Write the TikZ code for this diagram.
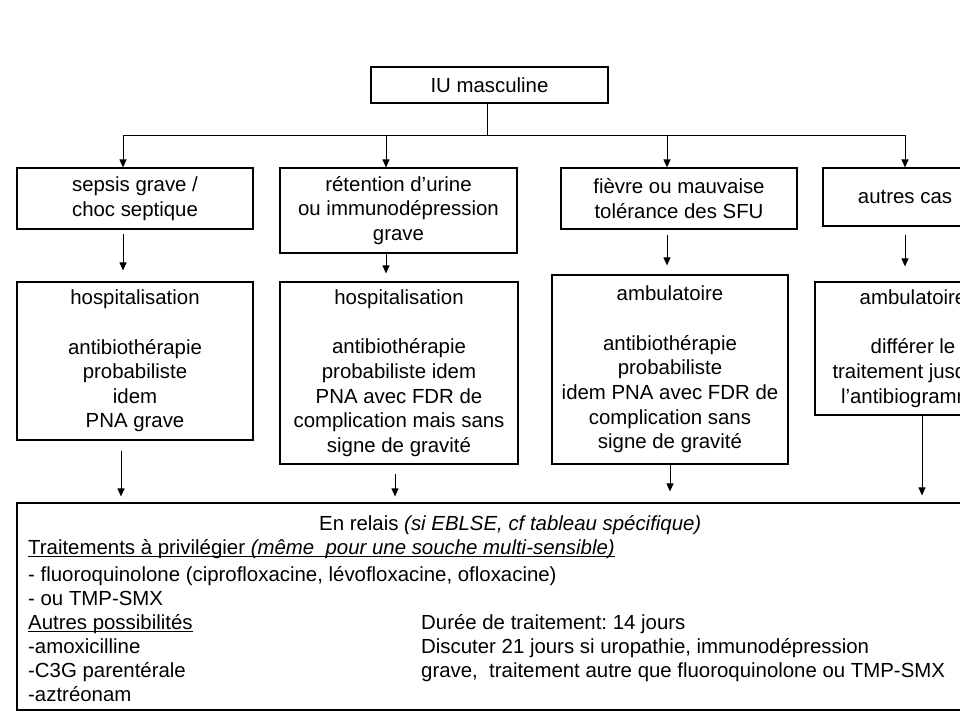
\documentclass[tikz,border=0pt]{standalone}
\usepackage{fontspec}
\setmainfont{Liberation Sans}
\usetikzlibrary{arrows.meta}
\frenchspacing
\begin{document}
\begin{tikzpicture}[x=1pt,y=-1pt,
  box/.style={draw,line width=1.2pt,inner sep=0pt,align=center,font=\fontsize{20.4}{24.6}\selectfont},
  arr/.style={line width=1pt,-{Triangle[length=8pt,width=7pt]}},
  conn/.style={line width=1pt},
  txt/.style={inner sep=0pt,anchor=base west,font=\fontsize{20.4}{24.4}\selectfont},
  uline/.style={line width=1pt}]
\useasboundingbox (0,0) rectangle (960,720);
\clip (0,0) rectangle (960,720);
\fill[white] (0,0) rectangle (960,720);

% top node
\node[box,minimum width=237pt,minimum height=36pt] (iu) at (489.5,85) {IU masculine};

% level 1
\node[box,minimum width=236pt,minimum height=61pt] (b1) at (135,198.5) {sepsis grave /\\choc septique};
\node[box,minimum width=237pt,minimum height=85pt] (b2) at (398.5,210.5) {rétention d’urine\\ou immunodépression\\grave};
\node[box,minimum width=236pt,minimum height=61pt] (b3) at (679,198.5) {fièvre ou mauvaise\\tolérance des SFU};
\node[box,minimum width=164pt,minimum height=58pt] (b4) at (905,197) {autres cas};

% level 2
\node[box,minimum width=236pt,minimum height=158pt] (b5) at (135,361) {hospitalisation\\[25pt]antibiothérapie\\probabiliste\\idem\\PNA grave};
\node[box,minimum width=238pt,minimum height=182pt] (b6) at (399,373) {hospitalisation\\[25pt]antibiothérapie\\probabiliste idem\\PNA avec FDR de\\complication mais sans\\signe de gravité};
\node[box,minimum width=236pt,minimum height=189pt] (b7) at (670,369.5) {ambulatoire\\[25pt]antibiothérapie\\probabiliste\\idem PNA avec FDR de\\complication sans\\signe de gravité};
\node[box,minimum width=196pt,minimum height=133pt] (b8) at (913,348.5) {ambulatoire\\[25pt]différer le\\traitement jusqu’à\\l’antibiogramme};

% bottom box
\node[box,minimum width=983pt,minimum height=207pt] (bb) at (508.5,606.5) {};

% connectors from top
\coordinate (bus) at (487,135);
\draw[conn] (iu.south -| bus) -- (bus);
\draw[conn] ([xshift=-12pt]b1.north |- bus) -- (b4.north |- bus);
\draw[arr] ([xshift=-12pt]b1.north |- bus) -- ([xshift=-12pt]b1.north);
\draw[arr] ([xshift=-12.5pt]b2.north |- bus) -- ([xshift=-12.5pt]b2.north);
\draw[arr] ([xshift=-12pt]b3.north |- bus) -- ([xshift=-12pt]b3.north);
\draw[arr] (b4.north |- bus) -- (b4.north);

% level 1 -> level 2
\draw[arr,shorten <=4pt,shorten >=11pt] ([xshift=-12pt]b1.south) -- ([xshift=-12pt]b1.south |- b5.north);
\draw[arr,shorten >=8pt] ([xshift=-12.5pt]b2.south) -- ([xshift=-12.5pt]b2.south |- b6.north);
\draw[arr,shorten <=5pt,shorten >=9pt] ([xshift=-12pt]b3.south) -- ([xshift=-12pt]b3.south |- b7.north);
\draw[arr,shorten <=8pt,shorten >=15pt] (b4.south) -- (b4.south |- b8.north);

% level 2 -> bottom
\draw[arr,shorten <=10pt,shorten >=6pt] ([xshift=-14pt]b5.south) -- ([xshift=-14pt]b5.south |- bb.north);
\draw[arr,shorten <=9pt,shorten >=6pt] ([xshift=-4pt]b6.south) -- ([xshift=-4pt]b6.south |- bb.north);
\draw[arr,shorten >=11pt] (b7.south) -- (b7.south |- bb.north);
\draw[arr,shorten >=7pt] ([xshift=9pt]b8.south) -- ([xshift=9pt]b8.south |- bb.north);

% bottom texts
\node[txt] (t0) at (319,530) {En relais \textit{(si EBLSE, cf tableau spécifique)}};
\node[txt] (t1) at (28,554) {Traitements à privilégier \textit{(même\ \ pour une souche multi-sensible)}};
\node[txt] (t2) at (28,581) {- fluoroquinolone (ciprofloxacine, lévofloxacine, ofloxacine)};
\node[txt] (t3) at (28,605) {- ou TMP-SMX};
\node[txt] (t4) at (28,629) {Autres possibilités};
\node[txt] (t5) at (28,653) {-amoxicilline};
\node[txt] (t6) at (28,677) {-C3G parentérale};
\node[txt] (t7) at (28,701) {-aztréonam};
\node[txt] (r1) at (421,629) {Durée de traitement: 14 jours};
\node[txt] (r2) at (421,653) {Discuter 21 jours si uropathie, immunodépression};
\node[txt] (r3) at (421,677) {grave,\ \ traitement autre que fluoroquinolone ou TMP-SMX};
\draw[uline] ([yshift=-2.5pt]t1.base west) -- ([yshift=-2.5pt]t1.base east);
\draw[uline] ([yshift=-2.5pt]t4.base west) -- ([yshift=-2.5pt]t4.base east);
\end{tikzpicture}
\end{document}
